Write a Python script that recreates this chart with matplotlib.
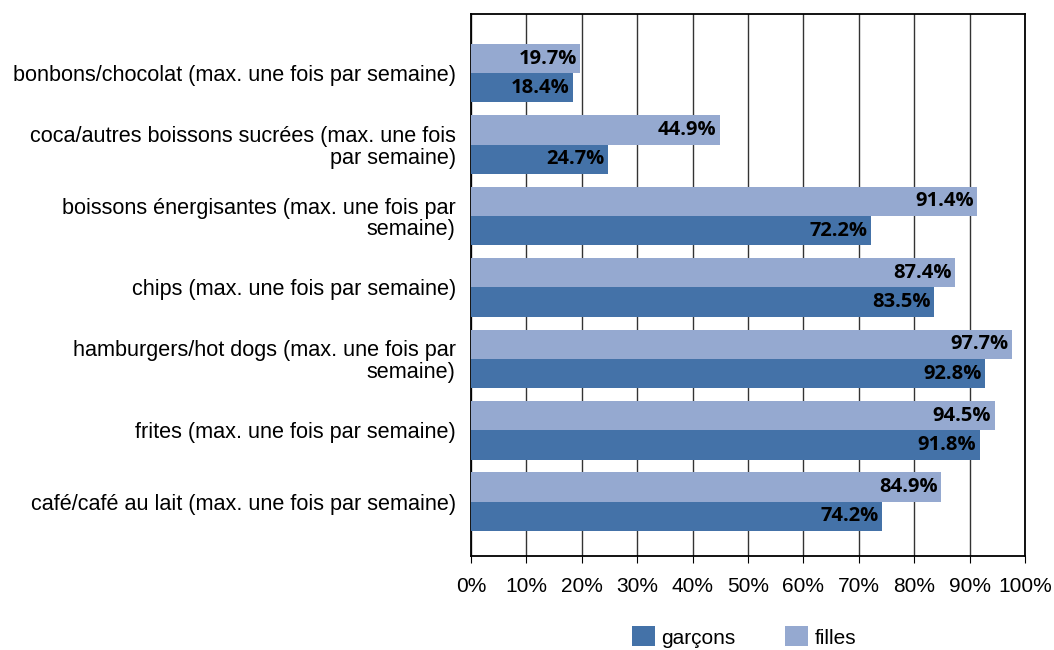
import matplotlib.pyplot as plt
import numpy as np

categories = [
    "bonbons/chocolat (max. une fois par semaine)",
    "coca/autres boissons sucrées (max. une fois\npar semaine)",
    "boissons énergisantes (max. une fois par\nsemaine)",
    "chips (max. une fois par semaine)",
    "hamburgers/hot dogs (max. une fois par\nsemaine)",
    "frites (max. une fois par semaine)",
    "café/café au lait (max. une fois par semaine)",
]
garcons = [18.4, 24.7, 72.2, 83.5, 92.8, 91.8, 74.2]
filles = [19.7, 44.9, 91.4, 87.4, 97.7, 94.5, 84.9]

plt.rcParams['font.family'] = ['Liberation Sans', 'DejaVu Sans']

fig = plt.figure(figsize=(10.54, 6.5), dpi=100)
ax = fig.add_axes([0.4469, 0.1446, 0.5256, 0.834])

y = np.arange(len(categories))
h = 0.41
c_g = '#4472a8'
c_f = '#95a9d0'
bf = ax.barh(y - h / 2, filles, height=h, color=c_f, label='filles', zorder=3)
bg = ax.barh(y + h / 2, garcons, height=h, color=c_g, label='garçons', zorder=3)

for bars, vals in ((bf, filles), (bg, garcons)):
    for b, v in zip(bars, vals):
        ax.text(v - 0.6, b.get_y() + b.get_height() / 2, f"{v:.1f}%",
                ha='right', va='center', fontsize=14.5, fontweight='bold',
                family=['Open Sans', 'DejaVu Sans'], zorder=4)

ax.set_xlim(0, 100)
ax.set_ylim(6.76, -0.83)
ax.set_xticks(np.arange(0, 101, 10))
ax.set_xticklabels([f"{t}%" for t in range(0, 101, 10)], fontsize=15)
ax.set_yticks(y)
ax.set_yticklabels(categories, fontsize=15.6, linespacing=1.05)
ax.tick_params(axis='y', length=0, pad=11)
ax.tick_params(axis='x', length=5, direction='out', color='black', pad=10)
ax.grid(axis='x', color='#333333', linewidth=1, zorder=0)
for s in ax.spines.values():
    s.set_color('black')
    s.set_linewidth(1.3)

handles = [bg, bf]
fig.legend(handles, ['garçons', 'filles'], loc='center', bbox_to_anchor=(0.706, 0.02),
           ncol=2, frameon=False, fontsize=15, handlelength=1.1, handleheight=1.1,
           columnspacing=2.4, handletextpad=0.3)

fig.savefig('out.png', dpi=100)
